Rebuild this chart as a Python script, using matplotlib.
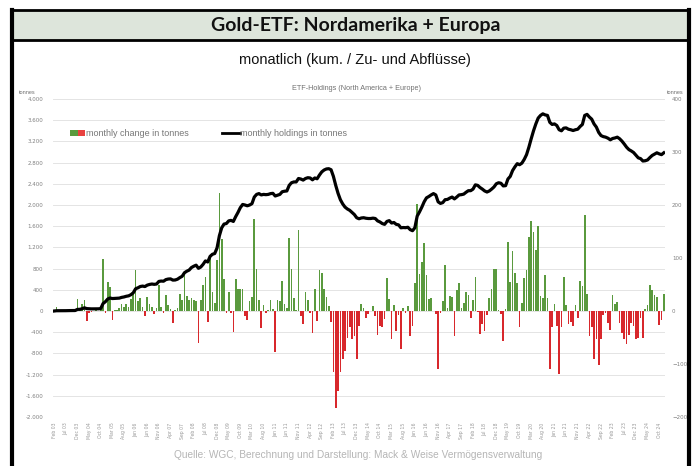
import numpy as np
import pandas as pd
import matplotlib
matplotlib.use('Agg')
import matplotlib.pyplot as plt
from matplotlib.patches import Rectangle
from matplotlib.lines import Line2D
from matplotlib.ticker import FuncFormatter

# ---------------- data (tonnes) ----------------
# monthly change (right axis), Feb 2003 .. Dec 2024
change_2003 = [0, 7, 1, 0, 1, 0, 2, 0, 1, 0, 23]
change_2004 = [1, 13, 21, -19, -3, -2, 0, 1, 0, 1, 98, -4]
change_2005 = [55, 46, -17, 2, 1, 5, 14, 8, 13, 8, 22, 36]
change_2006 = [77, 18, 24, 8, -9, 27, 13, 8, -6, 6, 49, 7]
change_2007 = [-3, 30, 11, 3, -23, 2, 5, 33, 21, 68, 29, 21]
change_2008 = [24, 21, 18, -60, 21, 49, 65, -20, 103, 35, 15, 96]
change_2009 = [223, 135, 60, -3, 36, -3, -39, 60, 42, 41, 41, -9]
change_2010 = [-17, 18, 27, 174, 79, 21, -33, 11, -3, 1, 21, 3]
change_2011 = [-77, 21, 18, 57, 14, 5, 138, 79, 24, 1, 152, -9]
change_2012 = [-25, 36, 21, -3, -41, 41, -19, 77, 72, 41, 27, 9]
change_2013 = [-20, -116, -183, -150, -115, -91, -75, -50, -31, -52, -47, -90]
change_2014 = [-28, 13, 5, -13, -6, 0, 9, -9, -46, -28, -31, -16]
change_2015 = [62, 23, -53, 11, -38, -8, -71, 5, -3, 9, -48, -28]
change_2016 = [53, 202, 69, 92, 129, 67, 22, 24, 0, -5, -110, -3]
change_2017 = [18, 86, 6, 28, 27, -47, 39, 52, 6, 16, 36, 31]
change_2018 = [-14, 21, 65, -2, -44, -25, -38, -8, 24, 41, 80, 79]
change_2019 = [2, -6, -57, 3, 131, 55, 113, 72, 53, -31, 16, 63]
change_2020 = [77, 140, 170, 149, 115, 160, 28, 25, 67, 25, -109, -30]
change_2021 = [14, -28, -119, -31, 65, 12, -25, -21, -28, 12, -13, 57]
change_2022 = [47, 182, 33, -47, -31, -90, -52, -101, -52, -8, -3, -23]
change_2023 = [-35, 30, 14, 17, -23, -41, -52, -63, -46, -23, -28, -53]
change_2024 = [-50, -13, -50, 4, 12, 50, 40, 30, 27, -26, -17, 32]

# monthly holdings (left axis)
hold_2003 = [0, 5, 5, 5, 6, 6, 8, 8, 9, 9, 30]
hold_2004 = [32, 42, 60, 45, 42, 40, 40, 41, 41, 45, 140, 175]
hold_2005 = [225, 245, 235, 237, 238, 243, 257, 265, 278, 286, 308, 344]
hold_2006 = [420, 438, 462, 470, 461, 488, 501, 509, 503, 509, 558, 565]
hold_2007 = [562, 592, 603, 606, 583, 585, 600, 630, 655, 722, 751, 772]
hold_2008 = [820, 845, 865, 805, 830, 880, 945, 925, 1030, 1070, 1085, 1190]
hold_2009 = [1420, 1570, 1640, 1650, 1700, 1710, 1690, 1780, 1860, 1950, 2010, 2000]
hold_2010 = [1985, 2000, 2025, 2150, 2200, 2215, 2190, 2200, 2195, 2200, 2215, 2220]
hold_2011 = [2170, 2185, 2200, 2250, 2260, 2265, 2370, 2420, 2435, 2435, 2500, 2490]
hold_2012 = [2470, 2500, 2515, 2510, 2475, 2510, 2495, 2565, 2625, 2660, 2680, 2685]
hold_2013 = [2665, 2540, 2370, 2220, 2100, 2020, 1960, 1925, 1900, 1860, 1820, 1760]
hold_2014 = [1740, 1755, 1760, 1750, 1745, 1745, 1752, 1745, 1700, 1680, 1650, 1635]
hold_2015 = [1690, 1705, 1660, 1670, 1635, 1625, 1570, 1575, 1572, 1580, 1535, 1515]
hold_2016 = [1570, 1790, 1870, 1960, 2060, 2135, 2160, 2190, 2215, 2190, 2060, 2030]
hold_2017 = [2045, 2100, 2105, 2130, 2150, 2115, 2150, 2190, 2195, 2205, 2240, 2270]
hold_2018 = [2270, 2300, 2380, 2370, 2330, 2300, 2265, 2245, 2265, 2300, 2340, 2400]
hold_2019 = [2420, 2410, 2360, 2365, 2490, 2540, 2650, 2720, 2780, 2760, 2790, 2860]
hold_2020 = [2950, 3090, 3250, 3400, 3530, 3640, 3690, 3720, 3700, 3690, 3560, 3520]
hold_2021 = [3530, 3500, 3420, 3400, 3450, 3455, 3430, 3420, 3405, 3420, 3430, 3480]
hold_2022 = [3520, 3690, 3710, 3660, 3620, 3530, 3470, 3370, 3310, 3290, 3280, 3260]
hold_2023 = [3230, 3255, 3265, 3280, 3250, 3205, 3150, 3090, 3045, 3020, 2990, 2940]
hold_2024 = [2890, 2875, 2830, 2835, 2850, 2895, 2935, 2960, 2985, 2965, 2950, 2985]

changes = np.array(change_2003 + change_2004 + change_2005 + change_2006 + change_2007
                   + change_2008 + change_2009 + change_2010 + change_2011 + change_2012
                   + change_2013 + change_2014 + change_2015 + change_2016 + change_2017
                   + change_2018 + change_2019 + change_2020 + change_2021 + change_2022
                   + change_2023 + change_2024)
holdings = np.array(hold_2003 + hold_2004 + hold_2005 + hold_2006 + hold_2007
                    + hold_2008 + hold_2009 + hold_2010 + hold_2011 + hold_2012
                    + hold_2013 + hold_2014 + hold_2015 + hold_2016 + hold_2017
                    + hold_2018 + hold_2019 + hold_2020 + hold_2021 + hold_2022
                    + hold_2023 + hold_2024)

months = pd.date_range('2003-02-01', periods=len(changes), freq='MS')
tick_idx = np.arange(0, len(months), 5)
tick_labels = [months[i].strftime('%b %y') for i in tick_idx]

title = 'Gold-ETF: Nordamerika + Europa'
subtitle = 'monatlich (kum. / Zu- und Abflüsse)'
chart_title = 'ETF-Holdings (North America + Europe)'
legend_bar = 'monthly change in tonnes'
legend_line = 'monthly holdings in tonnes'
source = 'Quelle: WGC, Berechnung und Darstellung: Mack & Weise Vermögensverwaltung'

GREEN = '#5a9a3e'
RED = '#d8282c'
GREY = '#808080'

# ---------------- figure ----------------
W, H = 697, 466
fig = plt.figure(figsize=(W / 100, H / 100), dpi=100)


def fx(px):
    return px / W


def fy(py):
    return 1 - py / H


# frame and title band
fig.patches.append(Rectangle((fx(12), fy(40)), fx(689) - fx(12), fy(10) - fy(40),
                             transform=fig.transFigure, facecolor='#dde5db',
                             edgecolor='black', lw=2.0, zorder=0))
fig.add_artist(Line2D([fx(12), fx(12)], [fy(10), 0], transform=fig.transFigure,
                      color='black', lw=3.0))
fig.add_artist(Line2D([fx(689), fx(689)], [fy(10), 0], transform=fig.transFigure,
                      color='black', lw=3.0))

fig.text(fx(356), fy(25), title, ha='center', va='center', fontsize=14,
         fontweight='bold', family='Lato', color='#111111')
fig.text(fx(355), fy(60), subtitle, ha='center', va='center', fontsize=10.5,
         family='Liberation Sans', color='#111111')
fig.text(fx(357), fy(88), chart_title, ha='center', va='center', fontsize=5.2,
         family='Liberation Sans', color='#707070')
fig.text(fx(36), fy(93), 'tonnes', ha='right', va='center', fontsize=4,
         family='Liberation Sans', color='#707070')
fig.text(fx(684), fy(93), 'tonnes', ha='right', va='center', fontsize=4,
         family='Liberation Sans', color='#707070')
fig.text(fx(358), fy(455), source, ha='center', va='center', fontsize=7.3,
         family='Liberation Sans', color='#b5b5b5')

# ---------------- axes ----------------
ax = fig.add_axes([fx(53), fy(417), fx(665) - fx(53), fy(99) - fy(417)])
ax2 = ax.twinx()

x = np.arange(len(changes))
colors = np.where(changes >= 0, GREEN, RED)
ax.bar(x, changes, width=0.72, color=colors, zorder=2, linewidth=0)
ax.set_ylim(-200, 400)
ax.set_xlim(-0.5, len(changes) - 0.5)
for gv in np.arange(-200, 401, 40):
    ax.axhline(gv, color='#e4e4e4', lw=0.7, zorder=0)
ax.set_yticks(np.arange(-200, 401, 100))
ax.set_xticks(tick_idx)
ax.set_xticklabels(tick_labels, rotation=90, fontsize=3.3, color='#999999')
ax.tick_params(axis='x', length=0, pad=4)
for s in ax.spines.values():
    s.set_visible(False)

ax2.plot(x, holdings, color='black', lw=2.3, zorder=3, solid_joinstyle='round')
ax2.set_ylim(-2000, 4000)
ax2.set_yticks(np.arange(-2000, 4001, 400))
ax2.yaxis.set_major_formatter(FuncFormatter(lambda v, p: f"{v:,.0f}".replace(',', '.')))
for s in ax2.spines.values():
    s.set_visible(False)

# place tick labels: bars axis on the right, holdings axis on the left
ax.yaxis.tick_right()
ax2.yaxis.tick_left()
ax.tick_params(axis='y', which='both', left=False, right=False, labelleft=False,
               labelright=True, length=0, labelsize=4, labelcolor=GREY, pad=5)
ax2.tick_params(axis='y', which='both', left=False, right=False, labelleft=True,
                labelright=False, length=0, labelsize=4, labelcolor=GREY, pad=7)

# ---------------- legend ----------------
ly = fy(133)
fig.patches.append(Rectangle((fx(70), ly - 0.006), fx(8), 0.012, transform=fig.transFigure,
                             facecolor=GREEN, edgecolor='none'))
fig.patches.append(Rectangle((fx(78), ly - 0.006), fx(7), 0.012, transform=fig.transFigure,
                             facecolor='#e8413f', edgecolor='none'))
fig.text(fx(86), ly, legend_bar, ha='left', va='center', fontsize=6.5,
         family='Liberation Sans', color='#777777')
fig.add_artist(Line2D([fx(222), fx(240)], [ly, ly], transform=fig.transFigure,
                      color='black', lw=2.0))
fig.text(fx(240), ly, legend_line, ha='left', va='center', fontsize=6.5,
         family='Liberation Sans', color='#777777')

fig.savefig('out.png', dpi=100)
